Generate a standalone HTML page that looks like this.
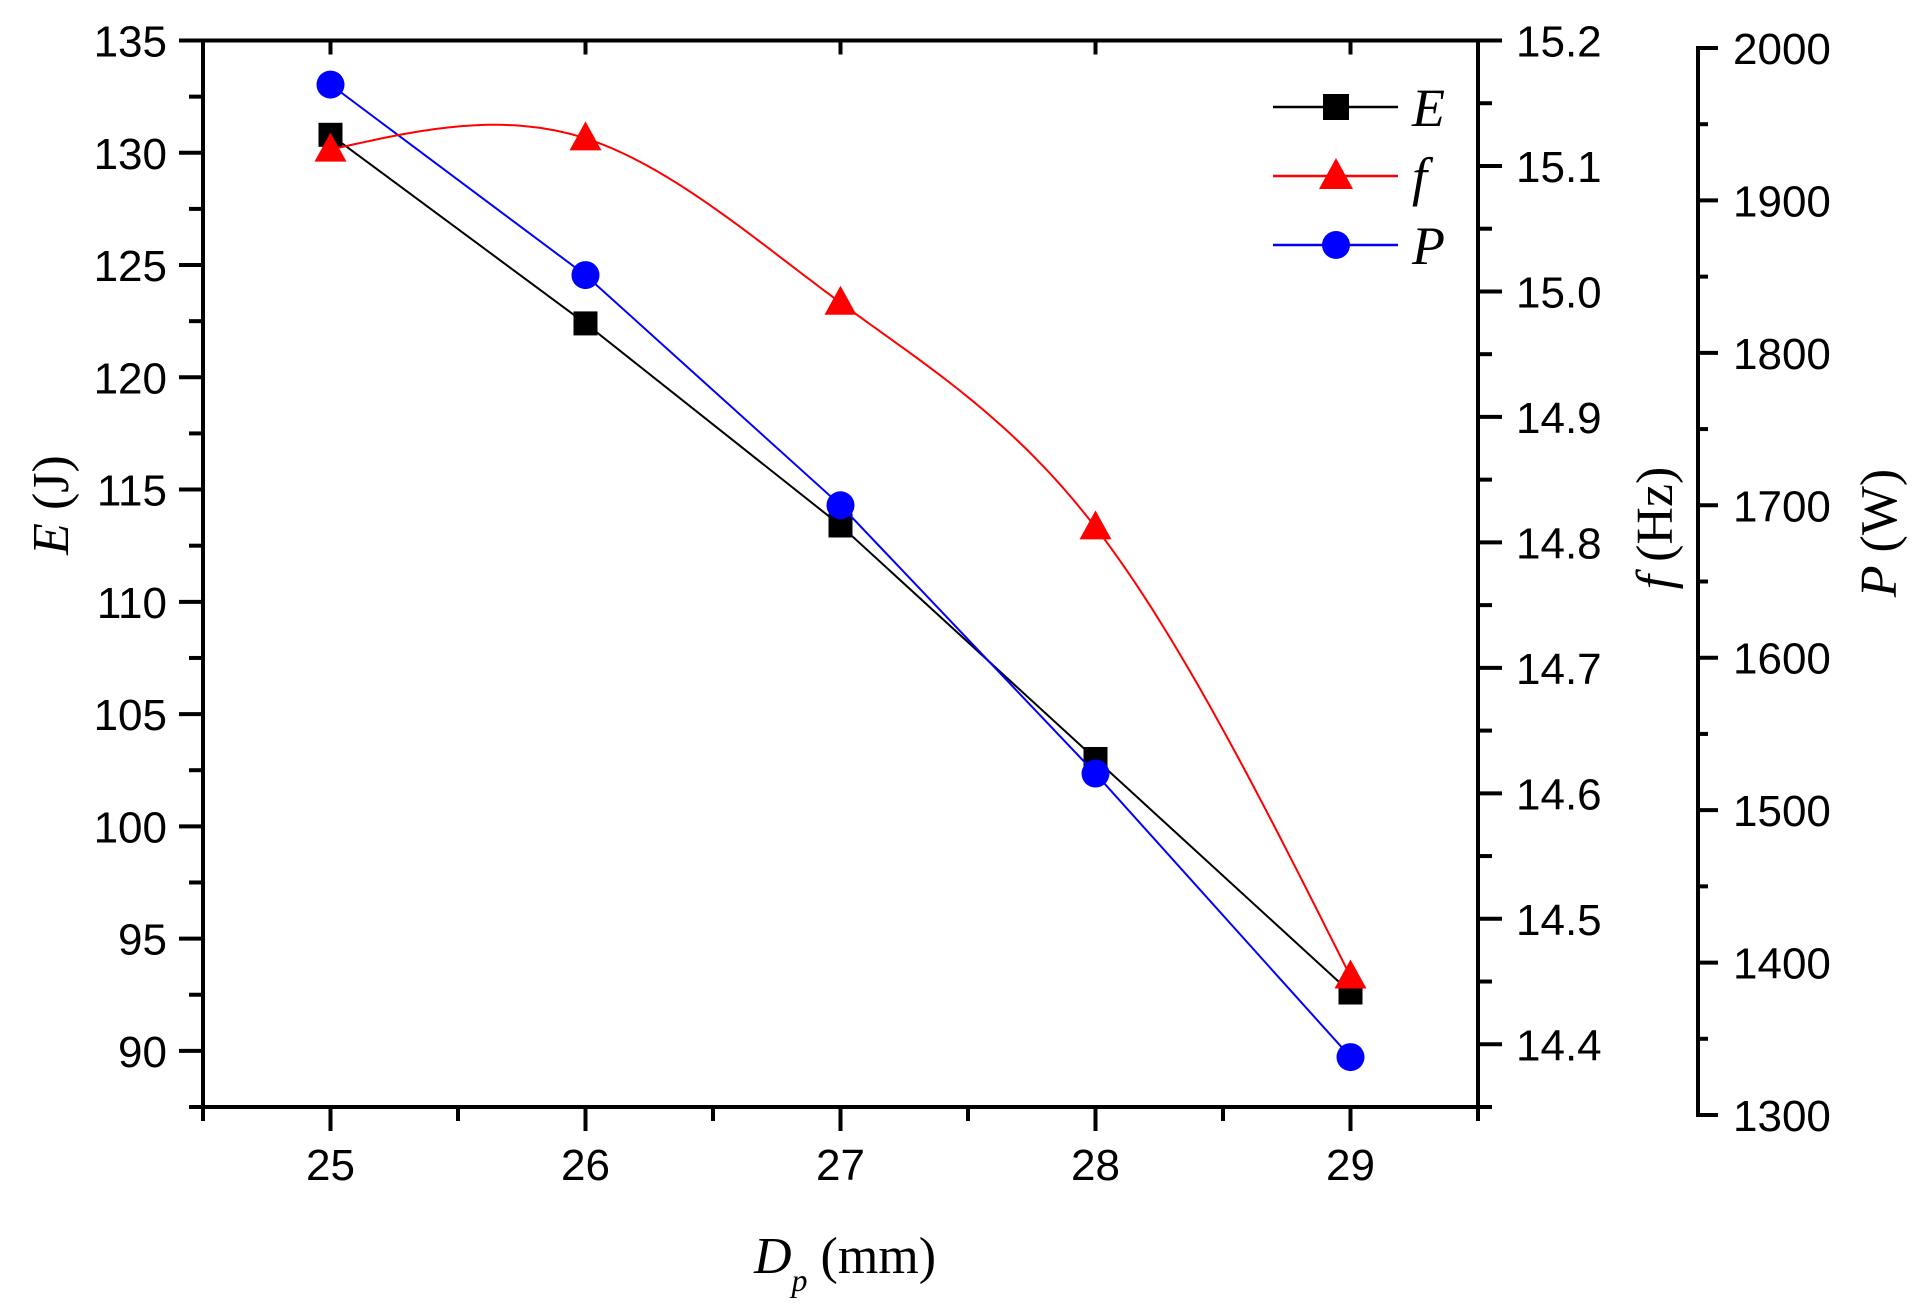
<!DOCTYPE html>
<html><head><meta charset="utf-8"><style>html,body{margin:0;padding:0;background:#fff}svg{display:block}</style></head>
<body>
<svg id="chart" width="1924" height="1313" viewBox="0 0 1924 1313" xmlns="http://www.w3.org/2000/svg"></svg>
<script>
const categories = [25, 26, 27, 28, 29];
const valuesE = [130.8, 122.4, 113.4, 103.0, 92.6];
const valuesF = [15.113, 15.122, 14.991, 14.812, 14.454];
const valuesP = [1976, 1851, 1700, 1524, 1338];
const xTicks = [25, 26, 27, 28, 29];
const eTicks = [90, 95, 100, 105, 110, 115, 120, 125, 130, 135];
const fTicks = ['14.4','14.5','14.6','14.7','14.8','14.9','15.0','15.1','15.2'];
const pTicks = [1300, 1400, 1500, 1600, 1700, 1800, 1900, 2000];

const NS = 'http://www.w3.org/2000/svg';
const svg = document.getElementById('chart');
const L = 203, R = 1478, T = 40.5, B = 1107;
const PX = 1698, PT = 48, PB = 1115;
const xS = v => L + (v - 24.5) / 5 * (R - L);
const yE = v => T + (135 - v) / (135 - 87.5) * (B - T);
const yF = v => T + (15.2 - v) / (15.2 - 14.35) * (B - T);
const yP = v => PB - (v - 1300) / 700 * (PB - PT);

function el(tag, attrs, parent) {
  const e = document.createElementNS(NS, tag);
  for (const k in attrs) e.setAttribute(k, attrs[k]);
  (parent || svg).appendChild(e);
  return e;
}
function txt(s, attrs, parent) { const t = el('text', attrs, parent); t.textContent = s; return t; }

const axes = el('g', {stroke: '#000', 'stroke-width': 4, fill: 'none', 'stroke-linecap': 'square'});


el('rect', {x: L, y: T, width: R - L, height: B - T}, axes);
el('line', {x1: PX, y1: PT, x2: PX, y2: PB}, axes);

for (let v = 24.5; v <= 29.51; v += 0.5) {
  const maj = Math.abs(v - Math.round(v)) < 0.01;
  const x = xS(v);
  el('line', {x1: x, y1: B, x2: x, y2: B + (maj ? 22 : 12)}, axes);
  el('line', {x1: x, y1: T, x2: x, y2: T + (maj ? 12 : 0)}, axes);
}
xTicks.forEach(v => {
  const t = txt(String(v), {x: xS(v), y: 1180, 'text-anchor': 'middle', 'font-family': 'Liberation Sans, sans-serif', 'font-size': 44});
  
  
});
for (let v = 87.5; v <= 135.01; v += 2.5) {
  const maj = Math.abs(v / 5 - Math.round(v / 5)) < 0.01;
  el('line', {x1: L, y1: yE(v), x2: L - (maj ? 22 : 12), y2: yE(v)}, axes);
}
eTicks.forEach(v => {
  const t = txt(String(v), {x: 167, y: yE(v) + 16, 'text-anchor': 'end', 'font-family': 'Liberation Sans, sans-serif', 'font-size': 44});
  
  
});
for (let v = 14.35; v <= 15.201; v += 0.05) {
  const maj = Math.abs(v * 10 - Math.round(v * 10)) < 0.01;
  el('line', {x1: R, y1: yF(v), x2: R + (maj ? 22 : 12), y2: yF(v)}, axes);
}
fTicks.forEach(s => {
  const t = txt(s, {x: 1516, y: yF(parseFloat(s)) + 16, 'font-family': 'Liberation Sans, sans-serif', 'font-size': 44});
  
  
});
for (let v = 1300; v <= 2000; v += 50) {
  const maj = v % 100 === 0;
  el('line', {x1: PX, y1: yP(v), x2: PX + (maj ? 18 : 8), y2: yP(v)}, axes);
}
pTicks.forEach(v => {
  const t = txt(String(v), {x: 1733, y: yP(v) + 16, 'font-family': 'Liberation Sans, sans-serif', 'font-size': 44});
  
  
});

const serif = 'Liberation Serif, serif';
let tt = el('text', {transform: 'translate(68,505) rotate(-90)', 'text-anchor': 'middle', 'font-family': serif, 'font-size': 52});
tt.innerHTML = '<tspan font-style="italic">E</tspan> (J)';


tt = el('text', {transform: 'translate(1672,528) rotate(-90)', 'text-anchor': 'middle', 'font-family': serif, 'font-size': 52});
tt.innerHTML = '<tspan font-style="italic">f</tspan> (Hz)';


tt = el('text', {transform: 'translate(1896,533) rotate(-90)', 'text-anchor': 'middle', 'font-family': serif, 'font-size': 52});
tt.innerHTML = '<tspan font-style="italic">P</tspan> (W)';


tt = el('text', {x: 845, y: 1273, 'text-anchor': 'middle', 'font-family': serif, 'font-size': 52});
tt.innerHTML = '<tspan font-style="italic">D</tspan><tspan font-style="italic" font-size="32" dy="18">p</tspan><tspan dy="-18"> (mm)</tspan>';



const gE = el('g', {});


el('polyline', {points: categories.map((c, i) => xS(c) + ',' + yE(valuesE[i])).join(' '), fill: 'none', stroke: '#000', 'stroke-width': 2}, gE);

const gP = el('g', {});


el('polyline', {points: categories.map((c, i) => xS(c) + ',' + yP(valuesP[i])).join(' '), fill: 'none', stroke: '#00f', 'stroke-width': 2}, gP);

function spline(xs, ys) {
  const n = xs.length, h = [];
  for (let i = 0; i < n - 1; i++) h.push(xs[i + 1] - xs[i]);
  const l = [1], mu = [0], z = [0];
  for (let i = 1; i < n - 1; i++) {
    const A = 3 / h[i] * (ys[i + 1] - ys[i]) - 3 / h[i - 1] * (ys[i] - ys[i - 1]);
    l[i] = 2 * (xs[i + 1] - xs[i - 1]) - h[i - 1] * mu[i - 1];
    mu[i] = h[i] / l[i];
    z[i] = (A - h[i - 1] * z[i - 1]) / l[i];
  }
  const c = new Array(n).fill(0);
  for (let j = n - 2; j >= 1; j--) c[j] = z[j] - mu[j] * c[j + 1];
  return x => {
    let i = Math.min(n - 2, Math.max(0, xs.findIndex((v, k) => k < n - 1 && x <= xs[k + 1])));
    const dx = x - xs[i];
    const b = (ys[i + 1] - ys[i]) / h[i] - h[i] * (c[i + 1] + 2 * c[i]) / 3;
    const d = (c[i + 1] - c[i]) / (3 * h[i]);
    return ys[i] + b * dx + c[i] * dx * dx + d * dx * dx * dx;
  };
}
const sp = spline(categories, valuesF);
const pts = [];
for (let k = 0; k <= 200; k++) {
  const x = categories[0] + (categories[categories.length - 1] - categories[0]) * k / 200;
  pts.push(xS(x).toFixed(1) + ',' + yF(sp(x)).toFixed(1));
}
const gF = el('g', {});


el('polyline', {points: pts.join(' '), fill: 'none', stroke: '#f00', 'stroke-width': 2}, gF);

categories.forEach((c, i) => {
  const x = xS(c);
  const s = el('rect', {x: x - 12, y: yE(valuesE[i]) - 12, width: 24, height: 24, fill: '#000'}, gE);
  
  
});
categories.forEach((c, i) => {
  const x = xS(c), y = yF(valuesF[i]);
  const t = el('polygon', {points: `${x},${y - 17} ${x - 16},${y + 12} ${x + 16},${y + 12}`, fill: '#f00'}, gF);
  
  
});
categories.forEach((c, i) => {
  const p = el('circle', {cx: xS(c), cy: yP(valuesP[i]), r: 14, fill: '#00f'}, gP);
  
  
});

const lg = el('g', {});


const leg = [['E', '#000', 107], ['f', '#f00', 176], ['P', '#00f', 245]];
leg.forEach(([n, col, y], i) => {
  const g = el('g', {}, lg);
  
  
  el('line', {x1: 1273, y1: y, x2: 1398, y2: y, stroke: col, 'stroke-width': 2.5}, g);
  const cx = 1336;
  if (i === 0) el('rect', {x: cx - 13, y: y - 13, width: 26, height: 26, fill: col}, g);
  else if (i === 1) el('polygon', {points: `${cx},${y - 18} ${cx - 17},${y + 13} ${cx + 17},${y + 13}`, fill: col}, g);
  else el('circle', {cx: cx, cy: y, r: 14, fill: col}, g);
  txt(n, {x: 1412, y: y + 19, 'font-family': serif, 'font-style': 'italic', 'font-size': 54}, g);
});
</script>
</body></html>
